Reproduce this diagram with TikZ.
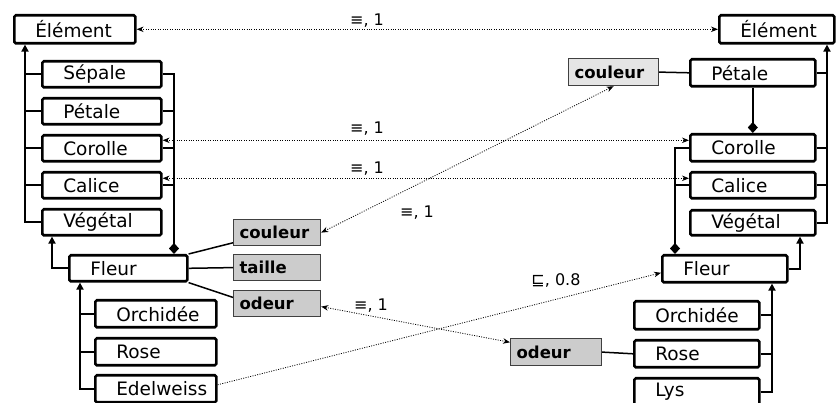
\documentclass[tikz,border=0pt]{standalone}
\usepackage{fontspec}
\setmainfont{DejaVu Sans}
\usetikzlibrary{arrows.meta}

\tikzset{
  box/.style={draw, line width=2.6pt, rounded corners=1.5pt, anchor=north west,
    inner xsep=0pt, inner ysep=0pt, text width=#1, minimum width=#1, align=left,
    font=\fontsize{18.5}{21}\selectfont, execute at begin node=\hspace*{21pt}},
  attr/.style={draw=black!75, line width=1.2pt, fill=black!20, anchor=north west,
    inner xsep=0pt, inner ysep=0pt, text width=#1, minimum width=#1, align=left,
    font=\fontsize{16.5}{19}\bfseries\selectfont, execute at begin node=\hspace*{6pt}},
  lattr/.style={attr=#1, fill=black!10},
  tree/.style={line width=1.8pt},
  inh/.style={tree, -{Triangle[length=7pt,width=7pt]}},
  comp/.style={tree, -{Diamond[length=11pt,width=10pt]}},
  assoc/.style={line width=1.5pt},
  match/.style={line width=0.8pt, dash pattern=on 1pt off 1.4pt,
    {Stealth[length=7pt,width=5.5pt]}-{Stealth[length=7pt,width=5.5pt]}},
  towards/.style={line width=0.8pt, dash pattern=on 1pt off 1.4pt,
    -{Stealth[length=7pt,width=5.5pt]}},
  rel/.style={font=\fontsize{16}{18}\selectfont, inner sep=0pt},
}

\begin{document}
\begin{tikzpicture}[x=1pt,y=-1pt]
\useasboundingbox (0,0) rectangle (836,403);

% first ontology
\node[box=121pt, minimum height=28pt] (LElem) at (13,14) {Élément};
\node[box=119pt, minimum height=26pt] (LSep) at (41,60) {Sépale};
\node[box=119pt, minimum height=26pt] (LPet) at (41,97) {Pétale};
\node[box=119pt, minimum height=26pt] (LCor) at (41,134) {Corolle};
\node[box=119pt, minimum height=26pt] (LCal) at (41,171) {Calice};
\node[box=119pt, minimum height=26pt] (LVeg) at (41,208) {Végétal};
\node[box=118pt, minimum height=26pt] (LFle) at (68,254) {Fleur};
\node[box=121pt, minimum height=27pt] (LOrc) at (94,299) {Orchidée};
\node[box=121pt, minimum height=27pt] (LRos) at (94,337) {Rose};
\node[box=121pt, minimum height=27pt] (LEde) at (94,374) {Edelweiss};
\node[attr=87pt, minimum height=26pt] (LCoul) at (233,219) {couleur};
\node[attr=87pt, minimum height=26pt] (LTai) at (233,254) {taille};
\node[attr=87pt, minimum height=26pt] (LOde) at (233,290) {odeur};

\coordinate (LT) at (25,0);
\coordinate (LP) at (174,0);
\coordinate (LQ) at (52,0);
\coordinate (LS) at (80,0);

\draw[inh] (LVeg.west) -| (LElem.south -| LT);
\foreach \n in {LSep,LPet,LCor,LCal}
  \draw[tree] (\n.west) -- (\n.west -| LT);
\draw[comp] (LSep.east) -| (LFle.north -| LP);
\foreach \n in {LPet,LCor,LCal}
  \draw[tree] (\n.east) -- (\n.east -| LP);
\draw[inh] (LFle.west) -| (LVeg.south -| LQ);
\draw[inh] (LEde.west) -| (LFle.south -| LS);
\foreach \n in {LOrc,LRos}
  \draw[tree] (\n.west) -- (\n.west -| LS);
\draw[assoc] (LFle.north east) -- (LCoul.193);
\draw[assoc] (LFle.east) -- (LTai.west);
\draw[assoc] (LFle.south east) -- (LOde.172);

% second ontology
\node[box=115pt, minimum height=28pt] (RElem) at (718,14) {Élément};
\node[box=125pt, minimum height=27pt] (RPet) at (689,58) {Pétale};
\node[box=125pt, minimum height=27pt] (RCor) at (689,133) {Corolle};
\node[box=125pt, minimum height=26pt] (RCal) at (689,171) {Calice};
\node[box=125pt, minimum height=25pt] (RVeg) at (689,209) {Végétal};
\node[box=125pt, minimum height=27pt] (RFle) at (661,254) {Fleur};
\node[box=125pt, minimum height=28pt] (ROrc) at (633,300) {Orchidée};
\node[box=125pt, minimum height=27pt] (RRos) at (633,339) {Rose};
\node[box=125pt, minimum height=27pt] (RLys) at (633,377) {Lys};
\node[lattr=90pt, minimum height=27pt] (RCoul) at (568,58) {couleur};
\node[attr=91pt, minimum height=27pt] (ROde) at (510,338) {odeur};

\coordinate (RT) at (827,0);
\coordinate (RP) at (675,0);
\coordinate (RQ) at (800,0);
\coordinate (RS) at (772,0);

\draw[inh] (RVeg.east) -| (RElem.south -| RT);
\foreach \n in {RPet,RCor,RCal}
  \draw[tree] (\n.east) -- (\n.east -| RT);
\draw[comp] (RPet.south) -- (RCor.north);
\draw[comp] (RCor.west) -| (RFle.north -| RP);
\draw[tree] (RCal.west) -- (RCal.west -| RP);
\draw[inh] (RFle.east) -| (RVeg.south -| RQ);
\draw[inh] (RLys.east) -| (RFle.south -| RS);
\foreach \n in {ROrc,RRos}
  \draw[tree] (\n.east) -- (\n.east -| RS);
\draw[assoc] (RCoul.east) -- (RPet.west);
\draw[assoc] (ROde.east) -- (RRos.west);

% correspondences
\draw[match] (LElem.east) -- (RElem.west);
\draw[match] ([yshift=8pt]LCor.east) -- ([yshift=8pt]LCor.east -| RCor.west);
\draw[match] ([yshift=7pt]LCal.east) -- ([yshift=7pt]LCal.east -| RCal.west);
\draw[match] (LCoul.east) -- (RCoul.south);
\draw[match] ([yshift=-3pt]LOde.east) -- (ROde.168);
\draw[towards] ([yshift=4pt]LEde.east) -- ([yshift=-4pt]RFle.west);

\node[rel] (mElem) at (367,21) {≡, 1};
\node[rel] (mCor) at (367,129) {≡, 1};
\node[rel] (mCal) at (367,169) {≡, 1};
\node[rel] (mCoul) at (417,213) {≡, 1};
\node[rel] (mOde) at (371,306) {≡, 1};
\node[rel] (mEde) at (556,280) {⊑, 0.8};
\end{tikzpicture}
\end{document}
